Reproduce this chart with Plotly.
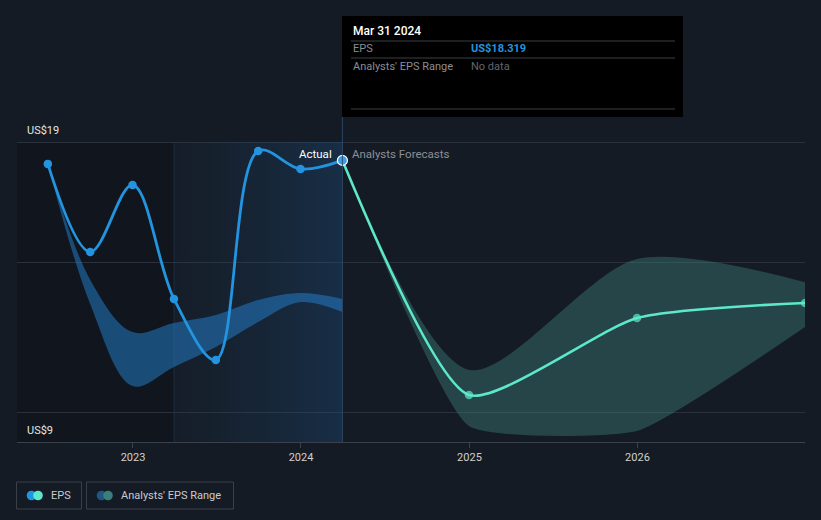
import plotly.graph_objects as go

# ---------------- data ----------------
actual_dates = ["2022-06-30", "2022-09-30", "2022-12-31", "2023-03-31",
                "2023-06-30", "2023-09-30", "2023-12-31", "2024-03-31"]
actual_eps = [18.19, 14.93, 17.41, 13.19, 10.93, 18.67, 18.00, 18.319]

past_range_high = [18.19, 13.9, 11.96, 12.30, 12.59, 13.15, 13.41, 13.19]
past_range_low = [18.19, 13.0, 9.96, 10.67, 11.41, 12.33, 13.07, 12.70]

fc_dates = ["2024-03-31", "2024-12-31", "2025-12-31", "2026-12-31"]
fc_eps = [18.319, 9.63, 12.48, 13.04]
fc_high = [18.319, 10.56, 14.67, 13.81]
fc_low = [18.319, 8.48, 8.30, 12.15]

year_ticks = ["2023-01-01", "2024-01-01", "2025-01-01", "2026-01-01"]
year_labels = ["2023", "2024", "2025", "2026"]
y_labels = ["US$19", "US$9"]
y_label_vals = [19, 9]
grid_vals = [9, 14.556, 19]

tooltip_date = "Mar 31 2024"
tooltip_eps = "US$18.319"

# ---------------- style ----------------
W, H = 821, 520
ML, MR, MT, MB = 17, 16, 100, 78
BG = "#151b24"
BLUE = "#2394df"
MINT = "#5ce8c9"
FONT = "Roboto"

plot_w = W - ML - MR
plot_h = H - MT - MB


def px_x(px):
    return (px - ML) / plot_w


def px_y(py):
    return (H - MB - py) / plot_h


fig = go.Figure()

# gradient shading for the last year of actuals
sx0, sx1 = actual_dates[3], actual_dates[-1]
y_bot, y_top = 7.889, 19
fig.add_trace(go.Scatter(
    x=[sx0, sx1, sx1, sx0, sx0], y=[y_bot, y_bot, y_top, y_top, y_bot],
    mode="lines", line=dict(width=0), fill="toself",
    fillgradient=dict(type="horizontal",
                      colorscale=[[0, "rgba(30,80,130,0.04)"], [1, "rgba(30,90,150,0.30)"]]),
    hoverinfo="skip", showlegend=False))

# past analyst range band
fig.add_trace(go.Scatter(x=actual_dates, y=past_range_high, mode="lines",
                         line=dict(width=0, shape="spline", smoothing=1.0),
                         hoverinfo="skip", showlegend=False))
fig.add_trace(go.Scatter(x=actual_dates, y=past_range_low, mode="lines",
                         line=dict(width=0, shape="spline", smoothing=1.0),
                         fill="tonexty", fillcolor="rgba(35,130,210,0.50)",
                         hoverinfo="skip", showlegend=False))

# forecast range band
fig.add_trace(go.Scatter(x=fc_dates, y=fc_high, mode="lines",
                         line=dict(width=0, shape="spline", smoothing=0.8),
                         hoverinfo="skip", showlegend=False))
fig.add_trace(go.Scatter(x=fc_dates, y=fc_low, mode="lines",
                         line=dict(width=0, shape="spline", smoothing=0.45),
                         fill="tonexty", fillcolor="rgba(70,150,140,0.35)",
                         hoverinfo="skip", showlegend=False))

# forecast line
fig.add_trace(go.Scatter(x=fc_dates, y=fc_eps, mode="lines+markers",
                         line=dict(color=MINT, width=2.6, shape="spline", smoothing=0.6),
                         marker=dict(size=[0, 8.5, 8.5, 8.5], color=MINT, line=dict(width=0)),
                         hoverinfo="skip", showlegend=False))

# actual line
fig.add_trace(go.Scatter(x=actual_dates, y=actual_eps, mode="lines+markers",
                         line=dict(color=BLUE, width=2.8, shape="spline", smoothing=1.0),
                         marker=dict(size=8.5, color=BLUE, line=dict(width=0)),
                         hoverinfo="skip", showlegend=False))
# highlighted point
fig.add_trace(go.Scatter(x=[actual_dates[-1]], y=[actual_eps[-1]], mode="markers",
                         marker=dict(size=10, color="#3a9ee8", line=dict(color="#ffffff", width=1.2)),
                         hoverinfo="skip", showlegend=False))

shapes = []
# darker region before the shaded year
shapes.append(dict(type="rect", xref="x", yref="y", x0="2022-04-24", x1=sx0, y0=y_bot, y1=y_top,
                   fillcolor="rgba(0,0,0,0.16)", line=dict(width=0), layer="below"))
# faint boundary line
shapes.append(dict(type="line", xref="x", yref="y", x0=sx0, x1=sx0, y0=y_bot, y1=y_top,
                   line=dict(color="rgba(40,70,100,0.45)", width=1), layer="below"))
# vertical hover line
shapes.append(dict(type="line", xref="x", yref="paper", x0=sx1, x1=sx1, y0=0, y1=px_y(117),
                   line=dict(color="rgba(45,75,105,0.9)", width=1)))

# tooltip box
shapes.append(dict(type="rect", xref="paper", yref="paper",
                   x0=px_x(342), x1=px_x(683), y0=px_y(117), y1=px_y(16),
                   fillcolor="#000000", line=dict(width=0)))
for ly in (41, 58, 109):
    shapes.append(dict(type="line", xref="paper", yref="paper",
                       x0=px_x(351), x1=px_x(675), y0=px_y(ly), y1=px_y(ly),
                       line=dict(color="#3c3f44", width=1)))

# legend boxes
shapes.append(dict(type="rect", xref="paper", yref="paper",
                   x0=px_x(16.5), x1=px_x(81.5), y0=px_y(509), y1=px_y(482),
                   line=dict(color="#3a404a", width=1), fillcolor="rgba(0,0,0,0)"))
shapes.append(dict(type="rect", xref="paper", yref="paper",
                   x0=px_x(86.5), x1=px_x(233.5), y0=px_y(509), y1=px_y(482),
                   line=dict(color="#3a404a", width=1), fillcolor="rgba(0,0,0,0)"))


def circle(cx, cy, r, color):
    return dict(type="circle", xref="paper", yref="paper",
                x0=px_x(cx - r), x1=px_x(cx + r), y0=px_y(cy + r), y1=px_y(cy - r),
                fillcolor=color, line=dict(width=0))


shapes.append(circle(31.5, 495.5, 4.8, BLUE))
shapes.append(circle(38, 495.5, 4.8, MINT))
shapes.append(circle(101.5, 495.5, 4.8, "#1f5683"))
shapes.append(circle(108, 495.5, 4.8, "#3d7d7a"))

annotations = []
for lab, v in zip(y_labels, y_label_vals):
    annotations.append(dict(text=lab, xref="paper", yref="y", x=px_x(25), y=v,
                            yshift=12 if v == 19 else -18, xanchor="left", yanchor="middle",
                            showarrow=False, font=dict(family=FONT, size=11, color="#e6e6e6")))

annotations.append(dict(text="Actual", xref="x", yref="paper", x=sx1, xshift=-8, y=px_y(154),
                        xanchor="right", yanchor="middle", showarrow=False,
                        font=dict(family=FONT, size=11.5, color="#ffffff")))
annotations.append(dict(text="Analysts Forecasts", xref="x", yref="paper", x=sx1, xshift=8, y=px_y(154),
                        xanchor="left", yanchor="middle", showarrow=False,
                        font=dict(family=FONT, size=11.5, color="#8c9096")))

# tooltip text
annotations.append(dict(text=tooltip_date, xref="paper", yref="paper", x=px_x(351), y=px_y(31),
                        xanchor="left", yanchor="middle", showarrow=False,
                        font=dict(family=FONT, size=12, color="#ffffff", weight=500)))
annotations.append(dict(text="EPS", xref="paper", yref="paper", x=px_x(351), y=px_y(49),
                        xanchor="left", yanchor="middle", showarrow=False,
                        font=dict(family=FONT, size=11, color="#8a8e94")))
annotations.append(dict(text="<b>" + tooltip_eps + "</b>", xref="paper", yref="paper", x=px_x(469), y=px_y(49),
                        xanchor="left", yanchor="middle", showarrow=False,
                        font=dict(family=FONT, size=11, color=BLUE)))
annotations.append(dict(text="Analysts' EPS Range", xref="paper", yref="paper", x=px_x(351), y=px_y(66),
                        xanchor="left", yanchor="middle", showarrow=False,
                        font=dict(family=FONT, size=11, color="#8a8e94")))
annotations.append(dict(text="No data", xref="paper", yref="paper", x=px_x(469), y=px_y(66),
                        xanchor="left", yanchor="middle", showarrow=False,
                        font=dict(family=FONT, size=11, color="#62666c")))

# legend text
annotations.append(dict(text="EPS", xref="paper", yref="paper", x=px_x(49), y=px_y(495.5),
                        xanchor="left", yanchor="middle", showarrow=False,
                        font=dict(family=FONT, size=11, color="#c8cbd0")))
annotations.append(dict(text="Analysts' EPS Range", xref="paper", yref="paper", x=px_x(119), y=px_y(495.5),
                        xanchor="left", yanchor="middle", showarrow=False,
                        font=dict(family=FONT, size=11, color="#c8cbd0")))

fig.update_layout(
    width=W, height=H,
    margin=dict(l=ML, r=MR, t=MT, b=MB, pad=0),
    paper_bgcolor=BG, plot_bgcolor=BG,
    font=dict(family=FONT, color="#cccccc"),
    showlegend=False,
    shapes=shapes,
    annotations=annotations,
    xaxis=dict(type="date", range=["2022-04-24", "2026-12-31"],
               tickvals=year_ticks, ticktext=year_labels,
               showgrid=False, zeroline=False,
               showline=True, linecolor="#3b414b", linewidth=1,
               ticks="outside", ticklen=5, tickcolor="#3b414b",
               tickfont=dict(family=FONT, size=11, color="#d0d0d0")),
    yaxis=dict(range=[7.889, 20.556], tickvals=grid_vals, showticklabels=False,
               showgrid=True, gridcolor="#2b313a", gridwidth=1, zeroline=False,
               showline=False, fixedrange=True),
)

fig.write_html("out.html")
